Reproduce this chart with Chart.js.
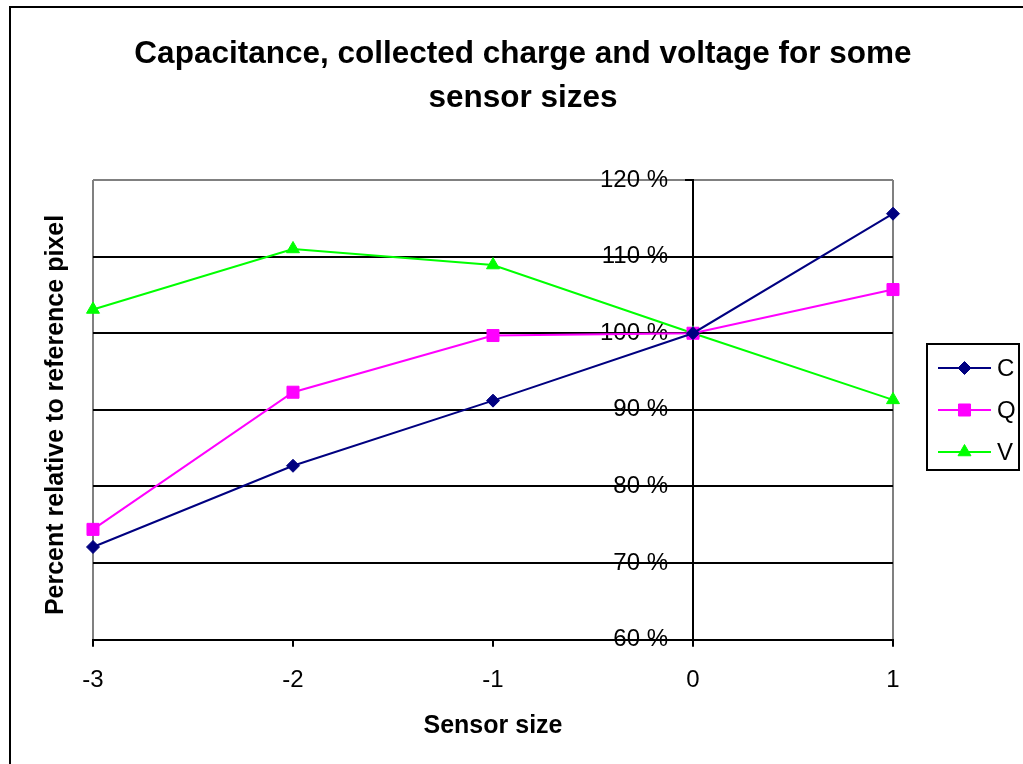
<!DOCTYPE html>
<html>
<head>
<meta charset="utf-8">
<script src="https://cdn.jsdelivr.net/npm/chart.js@4.4.0/dist/chart.umd.min.js"></script>
<style>
  html, body { margin: 0; padding: 0; background: #fff; overflow: hidden; }
  #frame { position: absolute; left: 9px; top: 6px; width: 1024px; height: 780px; border: 2px solid #000; }
  canvas { display: block; }
</style>
</head>
<body>
<div id="frame"><canvas id="chart" width="1024" height="780"></canvas></div>
<script>
const sizes = [-3, -2, -1, 0, 1]
const capacitance = [72.1, 82.7, 91.2, 100, 115.6]
const charge = [74.4, 92.3, 99.7, 100, 105.7]
const voltage = [103.1, 111.0, 108.9, 100, 91.3]
const percentTicks = [60, 70, 80, 90, 100, 110, 120]
const titleLines = ['Capacitance, collected charge and voltage for some', 'sensor sizes']
const yTitle = 'Percent relative to reference pixel'
const xTitle = 'Sensor size'

const FONT = "'Liberation Sans', Arial, sans-serif"
Chart.defaults.font.family = FONT
Chart.defaults.color = '#000'

const points = values => sizes.map((x, i) => ({ x, y: values[i] }))

const series = [
  { label: 'C', data: points(capacitance), borderColor: '#000080', backgroundColor: '#000080', pointStyle: 'rectRot', pointRadius: 6.5 },
  { label: 'Q', data: points(charge), borderColor: '#ff00ff', backgroundColor: '#ff00ff', pointStyle: 'rect', pointRadius: 8.5 },
  { label: 'V', data: points(voltage), borderColor: '#00ff00', backgroundColor: '#00ff00', pointStyle: 'triangle', pointRadius: 7.5 }
].map(ds => Object.assign(ds, {
  borderWidth: 2,
  pointBorderWidth: 1,
  pointBorderColor: ds.borderColor,
  pointBackgroundColor: ds.backgroundColor,
  pointHoverRadius: ds.pointRadius,
  tension: 0,
  clip: false,
  yAxisID: 'y'
}))

// two-line heading, centred on the whole chart object
const headingPlugin = {
  id: 'heading',
  afterDraw(chart) {
    const ctx = chart.ctx
    ctx.save()
    ctx.fillStyle = '#000'
    ctx.font = 'bold 31.5px ' + FONT
    ctx.textAlign = 'center'
    ctx.textBaseline = 'middle'
    titleLines.forEach((line, i) => ctx.fillText(line, 512, 46 + i * 44))

    // vertical axis caption, left of the plot
    ctx.font = 'bold 25px ' + FONT
    ctx.translate(45, 407)
    ctx.rotate(-Math.PI / 2)
    ctx.fillText(yTitle, 0, 0)
    ctx.restore()
  }
}

function marker(ctx, ds, x, y) {
  ctx.fillStyle = ds.pointBackgroundColor
  ctx.strokeStyle = ds.pointBorderColor
  ctx.lineWidth = 1
  if (Chart.helpers && Chart.helpers.drawPoint) {
    Chart.helpers.drawPoint(ctx, { pointStyle: ds.pointStyle, radius: ds.pointRadius, borderWidth: 1, rotation: 0 }, x, y)
    return
  }
  ctx.beginPath()
  ctx.arc(x, y, ds.pointRadius, 0, Math.PI * 2)
  ctx.fill()
}

// boxed legend with line + marker samples
const boxLegendPlugin = {
  id: 'boxLegend',
  afterDraw(chart) {
    const ctx = chart.ctx
    ctx.save()
    ctx.strokeStyle = '#000'
    ctx.lineWidth = 2
    ctx.strokeRect(916, 336, 92, 126)
    chart.data.datasets.forEach((ds, i) => {
      const y = 360 + i * 42
      ctx.strokeStyle = ds.borderColor
      ctx.lineWidth = 2
      ctx.beginPath()
      ctx.moveTo(927, y)
      ctx.lineTo(980, y)
      ctx.stroke()
      marker(ctx, ds, 953.5, y)
      ctx.fillStyle = '#000'
      ctx.font = '24px ' + FONT
      ctx.textAlign = 'left'
      ctx.textBaseline = 'middle'
      ctx.fillText(ds.label, 986, y + 1)
    })
    ctx.restore()
  }
}

const yMin = percentTicks[0]
const yMax = percentTicks[percentTicks.length - 1]

new Chart(document.getElementById('chart'), {
  type: 'line',
  data: { datasets: series },
  options: {
    responsive: false,
    animation: false,
    devicePixelRatio: 1,
    layout: { padding: { left: 82, right: 142, top: 172, bottom: 47.5 } },
    plugins: {
      legend: { display: false },
      title: { display: false },
      tooltip: { enabled: false }
    },
    scales: {
      x: {
        type: 'linear',
        min: sizes[0],
        max: sizes[sizes.length - 1],
        ticks: { stepSize: 1, padding: 19, font: { size: 24 } },
        grid: {
          drawOnChartArea: true,
          drawTicks: true,
          tickLength: 7,
          tickColor: '#000',
          tickWidth: 2,
          lineWidth: 2,
          color: c => (c.tick && (c.tick.value === sizes[0] || c.tick.value === sizes[sizes.length - 1])) ? '#808080' : 'rgba(0,0,0,0)'
        },
        border: { color: '#000', width: 2 },
        title: { display: true, text: xTitle, font: { size: 25, weight: 'bold', lineHeight: 1 }, padding: { top: 0, bottom: 2 } }
      },
      // axis line, gridlines and tick marks at x = 0
      y: {
        type: 'linear',
        position: { x: 0 },
        min: yMin,
        max: yMax,
        ticks: { stepSize: 10, font: { size: 24 }, callback: () => '' },
        grid: {
          drawTicks: true,
          tickLength: 7,
          tickColor: '#000',
          tickWidth: 2,
          lineWidth: 2,
          color: c => (c.tick && c.tick.value === yMax) ? '#808080' : '#000'
        },
        border: { color: '#000', width: 2 }
      },
      // percent labels, set a little left of the axis line
      yLabels: {
        type: 'linear',
        axis: 'y',
        position: { x: -0.125 },
        min: yMin,
        max: yMax,
        ticks: { stepSize: 10, font: { size: 24 }, callback: v => v + ' %' },
        grid: { display: false, drawTicks: false },
        border: { display: false }
      }
    }
  },
  plugins: [headingPlugin, boxLegendPlugin]
})
</script>
</body>
</html>
